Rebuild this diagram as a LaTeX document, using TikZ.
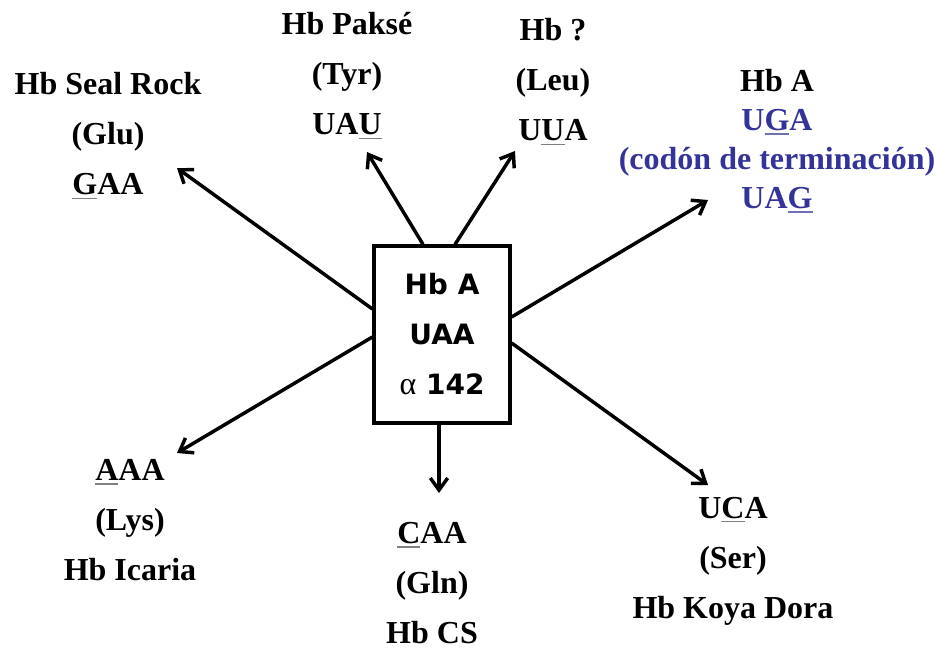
\documentclass[tikz,border=0pt]{standalone}
\usepackage{fontspec}
\setmainfont{Liberation Serif}
\newfontfamily\boxfont{DejaVu Sans}
\usetikzlibrary{arrows.meta, calc}
\definecolor{codonblue}{RGB}{51,51,153}
% gray rule under the changed base
\newsavebox{\ulbox}
\newcommand{\ulin}[2][gray]{\sbox{\ulbox}{#2}\rlap{\textcolor{#1}{\rule[-3.2pt]{\wd\ulbox}{1.3pt}}}\usebox{\ulbox}}
\tikzstyle{centre} = [rectangle, 
draw=black, 
line width=2.4pt,
minimum width=102pt, 
minimum height=132.75pt,
align=center, 
font=\boxfont\bfseries\fontsize{21}{37.5}\selectfont]
\tikzstyle{variant} = [align=center,
inner sep=0pt,
font=\bfseries\fontsize{24}{37.5}\selectfont]
\tikzstyle{arrow} = [line width=2.6pt,->,>={Straight Barb[length=9pt,width=13pt]}]

\begin{document}
\begin{tikzpicture}[x=0.75pt,y=-0.75pt]
  \useasboundingbox (0,0) rectangle (934,650);
  \node (hba) [centre] at (442,334.5) {Hb A\\UAA\\{\rmfamily\mdseries\fontsize{24}{37.5}\selectfont α} 142};
  \node (seal) [variant] at (108,136) {Hb Seal Rock\\(Glu)\\\ulin{G}AA};
  \node (pakse) [variant] at (347,76) {Hb Paksé\\(Tyr)\\UA\ulin{U}};
  \node (leu) [variant] at (553,82) {Hb ?\\(Leu)\\U\ulin{U}A};
  \node (stop) [variant, font=\bfseries\fontsize{24}{29.3}\selectfont] at (777,141) {
    Hb A\\
    \textcolor{codonblue}{U\ulin[codonblue!70]{G}A}\\
    \textcolor{codonblue}{(codón de terminación)}\\
    \textcolor{codonblue}{UA\ulin[codonblue!70]{G}}
  };
  \node (lys) [variant] at (130,520) {\ulin{A}AA\\(Lys)\\Hb Icaria};
  \node (gln) [variant] at (432,583) {\ulin{C}AA\\(Gln)\\Hb CS};
  \node (ser) [variant] at (733,561) {U\ulin{C}A\\(Ser)\\Hb Koya Dora};

  \coordinate (sealtip) at (177,168);
  \coordinate (paksetip) at (367,152);
  \coordinate (leutip) at (515,151);
  \coordinate (stoptip) at (708,200);
  \coordinate (lystip) at (177,453);
  \coordinate (glntip) at (439,493);
  \coordinate (sertip) at (708,485);

  \draw [arrow] ($(hba.west)+(0,-25.5)$) -- (sealtip);
  \draw [arrow] ($(hba.north)+(-19,0)$) -- (paksetip);
  \draw [arrow] ($(hba.north)+(13,0)$) -- (leutip);
  \draw [arrow] ($(hba.east)+(0,-17.5)$) -- (stoptip);
  \draw [arrow] ($(hba.west)+(0,2.5)$) -- (lystip);
  \draw [arrow] ($(hba.south)+(-3,0)$) -- (glntip);
  \draw [arrow] ($(hba.east)+(0,8.5)$) -- (sertip);
\end{tikzpicture}
\end{document}
